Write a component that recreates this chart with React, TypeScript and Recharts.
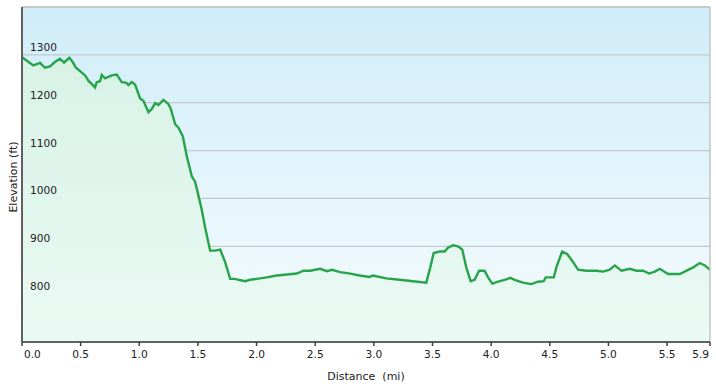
import { ComposedChart, Area, XAxis, YAxis, CartesianGrid, ReferenceLine } from "recharts";

const distanceMi = [
  0.0, 0.097, 0.154, 0.196, 0.239, 0.28, 0.324, 0.358, 0.404, 0.432, 0.46, 0.51,
  0.538, 0.566, 0.623, 0.637, 0.666, 0.68, 0.708, 0.765, 0.808, 0.85, 0.887,
  0.907, 0.936, 0.964, 1.007, 1.035, 1.078, 1.107, 1.135, 1.163, 1.206, 1.249,
  1.269, 1.306, 1.334, 1.371, 1.405, 1.448, 1.476, 1.513, 1.533, 1.561, 1.604,
  1.647, 1.69, 1.732, 1.775, 1.817, 1.846, 1.903, 1.945, 2.002, 2.087, 2.172,
  2.258, 2.343, 2.4, 2.457, 2.543, 2.6, 2.643, 2.713, 2.799, 2.878, 2.963,
  2.993, 3.106, 3.219, 3.333, 3.447, 3.481, 3.51, 3.561, 3.604, 3.632, 3.675,
  3.718, 3.754, 3.788, 3.825, 3.859, 3.897, 3.944, 3.974, 4.01, 4.059, 4.115,
  4.164, 4.2, 4.272, 4.343, 4.4, 4.448, 4.465, 4.534, 4.556, 4.605, 4.648,
  4.699, 4.741, 4.812, 4.898, 4.955, 5.011, 5.054, 5.111, 5.182, 5.239, 5.296,
  5.347, 5.395, 5.438, 5.509, 5.566, 5.608, 5.666, 5.723, 5.779, 5.822, 5.866,
];

const elevationFt = [
  1295, 1278, 1283, 1273, 1276, 1285, 1292, 1284, 1294, 1285, 1273, 1263, 1257,
  1246, 1232, 1243, 1245, 1258, 1251, 1257, 1259, 1243, 1242, 1237, 1243, 1238,
  1209, 1204, 1180, 1187, 1199, 1195, 1206, 1197, 1187, 1155, 1148, 1130, 1088,
  1046, 1035, 997, 976, 940, 891, 891, 893, 867, 832, 832, 830, 827, 830, 832,
  835, 839, 841, 843, 849, 849, 853, 848, 851, 846, 843, 839, 836, 839, 833,
  830, 827, 824, 856, 886, 889, 889, 897, 902, 900, 893, 856, 827, 830, 849,
  849, 835, 822, 826, 830, 834, 830, 824, 821, 826, 827, 835, 835, 856, 889,
  884, 867, 851, 849, 849, 847, 851, 860, 849, 853, 849, 849, 843, 847, 853,
  842, 842, 842, 849, 856, 865, 860, 851,
];

const xTicks = [0, 0.5, 1, 1.5, 2, 2.5, 3, 3.5, 4, 4.5, 5, 5.5, 5.866];
const yTicks = [800, 900, 1000, 1100, 1200, 1300];

const data = distanceMi.map((d, i) => ({ d, elev: elevationFt[i] }));

const FONT = "DejaVu Sans, Verdana, sans-serif";
const X_MAX = 5.866;

const XTick = ({ x, y, payload }: any) => {
  const v = payload.value as number;
  let anchor: "start" | "middle" | "end" = "middle";
  if (v === 0) anchor = "start";
  if (v === X_MAX) anchor = "end";
  return (
    <text
      x={v === 0 ? x + 2 : v === X_MAX ? x - 1 : x}
      y={y + 10}
      textAnchor={anchor}
      fontSize={10.6}
      fontFamily={FONT}
      fill="#222"
    >
      {v.toFixed(1)}
    </text>
  );
};

const YTick = ({ y, payload }: any) => (
  <text x={30} y={y - 4} fontSize={10.6} fontFamily={FONT} fill="#222">
    {payload.value}
  </text>
);

export default function App() {
  return (
    <div style={{ position: "absolute", left: 0, top: 0, width: 716, height: 387 }}>
      {/* plot background sits behind the svg */}
      <div
        style={{
          position: "absolute",
          left: 22,
          top: 7,
          width: 688,
          height: 335,
          background: "linear-gradient(#d0edf9, #f6fcfe)",
        }}
      />
      <div style={{ position: "absolute", left: 0, top: 0 }}>
        <ComposedChart
          width={716}
          height={387}
          data={data}
          margin={{ top: 7, right: 6, left: 21, bottom: 0 }}
        >
          <defs>
            <linearGradient id="fillGreen" x1="0" y1="0" x2="0" y2="1">
              <stop offset="0%" stopColor="#d8f2e6" />
              <stop offset="100%" stopColor="#eafaf4" />
            </linearGradient>
          </defs>
          <CartesianGrid vertical={false} stroke="#c2c9cc" strokeWidth={1.3} />
          <Area
            type="linear"
            dataKey="elev"
            stroke="#27a44b"
            strokeWidth={2.4}
            fill="url(#fillGreen)"
            fillOpacity={1}
            dot={false}
            activeDot={false}
            isAnimationActive={false}
          />
          <XAxis
            dataKey="d"
            type="number"
            domain={[0, X_MAX]}
            ticks={xTicks}
            interval={0}
            height={45}
            axisLine={{ stroke: "#606060", strokeWidth: 2 }}
            tickLine={{ stroke: "#404040", strokeWidth: 1.5 }}
            tickSize={4}
            tick={<XTick />}
            label={{
              value: "Distance\u00a0\u00a0(mi)",
              position: "insideBottom",
              offset: 7,
              style: { fontSize: 11, fontFamily: FONT, fill: "#222" },
            }}
          />
          <YAxis
            type="number"
            domain={[700, 1400]}
            ticks={yTicks}
            interval={0}
            width={1}
            axisLine={{ stroke: "#606060", strokeWidth: 2 }}
            tickLine={false}
            tick={<YTick />}
          />
          <ReferenceLine y={1400} stroke="#c4c4c4" strokeWidth={1.5} />
          <ReferenceLine x={X_MAX} stroke="#c4c4c4" strokeWidth={1.5} />
          <text
            x={13}
            y={177}
            transform="rotate(-90 13 177)"
            textAnchor="middle"
            dominantBaseline="central"
            fontSize={11}
            fontFamily={FONT}
            fill="#222"
          >
            Elevation (ft)
          </text>
        </ComposedChart>
      </div>
    </div>
  );
}
